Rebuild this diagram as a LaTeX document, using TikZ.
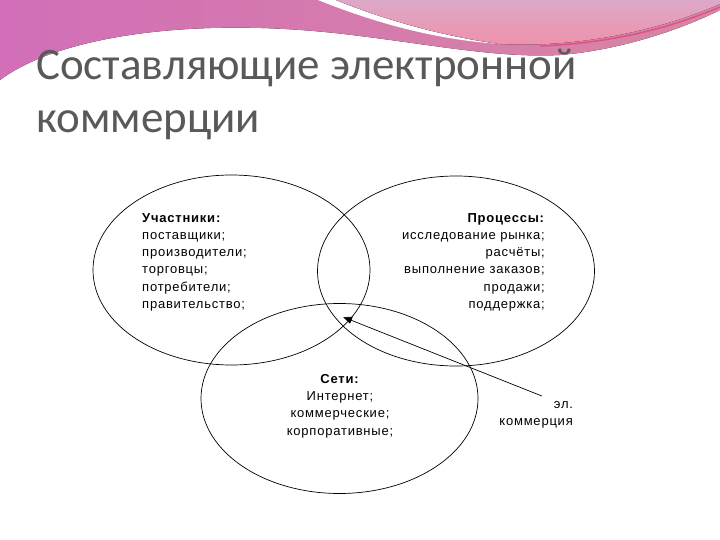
\documentclass[tikz,border=0pt]{standalone}
\usepackage{fontspec}
\setmainfont{Liberation Sans}
\newfontfamily\titlefont{Carlito}
\newfontfamily\diagfont[LetterSpace=6]{Liberation Sans}
\usetikzlibrary{arrows.meta, shapes.geometric}

\definecolor{titlegray}{HTML}{595959}
\definecolor{wavepink}{HTML}{D886A2}
\definecolor{wavemagenta}{HTML}{D26FB8}
\definecolor{lilac}{HTML}{DCA9C9}
\definecolor{rosepink}{HTML}{F090A8}
\definecolor{bandred}{HTML}{E0508A}

\begin{document}
\begin{tikzpicture}[x=1pt, y=-1pt,
    set/.style={ellipse, draw, line width=0.7pt, minimum width=277pt, minimum height=190pt, inner sep=0pt},
    items/.style={font=\diagfont\fontsize{13}{17.3}\selectfont, inner sep=0pt},
    heading/.style={font=\titlefont\fontsize{45}{53}\selectfont, text=titlegray, inner sep=0pt},
    arrow/.style={-{Triangle[length=9pt, width=7pt]}, line width=0.7pt},
]

%Background
\fill[white] (0,0) rectangle (720,540);
\useasboundingbox (0,0) rectangle (720,540);

% Top wave
\fill[left color=wavemagenta, right color=wavepink] (0,0) -- (0,80) .. controls (60,35) and (200,15) .. (360,36) .. controls (440,46) and (500,58) .. (560,55) .. controls (620,50) and (680,30) .. (720,10) -- (720,0) -- cycle;
\fill[white] (318,0) .. controls (380,25) and (440,40) .. (500,44) .. controls (440,36) and (380,18) .. (336,0) -- cycle;
\fill[top color=lilac, bottom color=rosepink] (336,0) .. controls (380,18) and (440,36) .. (500,44) .. controls (580,48) and (660,30) .. (720,4) -- (720,0) -- cycle;
\draw[bandred, line width=1.5pt] (540,46) .. controls (620,43) and (680,24) .. (720,7);

% Title
\node[heading, anchor=base west] (title) at (36,80) {Составляющие электронной};
\node[heading, anchor=base west] (title2) at (36,133) {коммерции};

% Sets
\node[set] (participants) at (231.5,270) {};
\node[set] (processes) at (456,271) {};
\node[set] (networks) at (339.5,398.5) {};

% Set contents (base = last line)
\node[items, anchor=base west, align=left] (participants_list) at (142,308.5) {\textbf{Участники:}\\поставщики;\\производители;\\торговцы;\\потребители;\\правительство;};
\node[items, anchor=base east, align=right] (processes_list) at (545,308.5) {\textbf{Процессы:}\\исследование рынка;\\расчёты;\\выполнение заказов;\\продажи;\\поддержка;};
\node[items, anchor=base, align=center] (networks_list) at (340,435) {\textbf{Сети:}\\Интернет;\\коммерческие;\\корпоративные;};

% E-commerce label
\coordinate (core) at (343,317);
\node[items, anchor=base east, outer sep=12pt] (el) at (585,408) {эл.};
\node[items, anchor=base east] (ecommerce) at (573,425) {коммерция};

% Arrows
\draw[arrow] (el) -- (core);

\end{tikzpicture}
\end{document}
